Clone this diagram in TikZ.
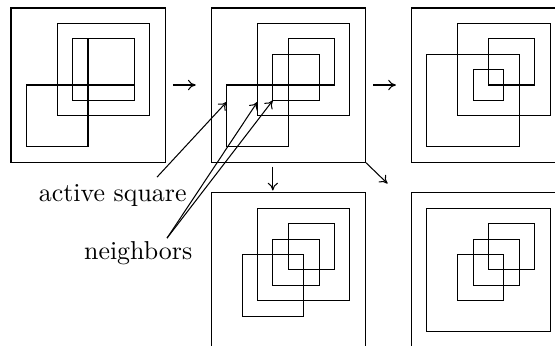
\documentclass[tikz,border=0pt]{standalone}
\usetikzlibrary{calc,arrows.meta}

\begin{document}
\begin{tikzpicture}[
  x=5.95pt, y=-5.95pt,
  panel/.style={draw, rectangle, minimum size=59.5pt, inner sep=0pt, outer sep=0pt},
  sq/.style={draw, line width=0.4pt},
  flow/.style={-{To[length=3pt,width=4pt]}, line width=0.4pt},
  tag/.style={inner sep=0pt, anchor=base east}
]
\clip (-0.714,-0.519) rectangle (35.32,21.88);

% --- panels ---
\node[panel] (p1) at (5,5) {};
\node[panel] (p2) at (18,5) {};
\node[panel] (p3) at (31,5) {};
\node[panel] (p4) at (18,17) {};
\node[panel] (p5) at (31,17) {};

% --- squares, panel 1 ---
\begin{scope}[shift={(p1.north west)}]
  \draw[sq] (3,1) rectangle (9,7);
  \draw[sq] (4,2) rectangle (8,6);
  \draw[sq] (5,2) rectangle (8,5);
  \draw[sq] (1,5) rectangle (5,9);
\end{scope}

% --- squares, panel 2 ---
\begin{scope}[shift={(p2.north west)}]
  \draw[sq] (3,1) rectangle (9,7);
  \draw[sq] (5,2) rectangle (8,5);
  \draw[sq] (4,3) rectangle (7,6);
  \draw[sq] (1,5) rectangle (5,9);
  \coordinate (asq) at (1,6.1);
  \coordinate (nb1) at (3,6.1);
  \coordinate (nb2) at (4,6);
\end{scope}

% --- squares, panel 3 ---
\begin{scope}[shift={(p3.north west)}]
  \draw[sq] (3,1) rectangle (9,7);
  \draw[sq] (5,2) rectangle (8,5);
  \draw[sq] (4,4) rectangle (6,6);
  \draw[sq] (1,3) rectangle (7,9);
\end{scope}

% --- squares, panel 4 ---
\begin{scope}[shift={(p4.north west)}]
  \draw[sq] (3,1) rectangle (9,7);
  \draw[sq] (5,2) rectangle (8,5);
  \draw[sq] (4,3) rectangle (7,6);
  \draw[sq] (2,4) rectangle (6,8);
\end{scope}

% --- squares, panel 5 ---
\begin{scope}[shift={(p5.north west)}]
  \draw[sq] (1,1) rectangle (9,9);
  \draw[sq] (5,2) rectangle (8,5);
  \draw[sq] (4,3) rectangle (7,6);
  \draw[sq] (3,4) rectangle (6,7);
\end{scope}

% --- steps between panels ---
\draw[flow, shorten <=3pt, shorten >=6pt] (p1) -- (p2);
\draw[flow, shorten <=3pt, shorten >=6pt] (p2) -- (p3);
\draw[flow] ($(p2.south)+(-1,0.3)$) -- ($(p4.north)+(-1,-0.15)$);
\draw[flow] (p2.south east) -- ++(1.45,1.4);

% --- labels ---
\node[tag] (active) at (11.43,12.58) {active square};
\node[tag] (nbrs) at (11.8,16.36) {neighbors};
\draw[flow] ($(active.base east)+(-1.95,-1.6)$) -- (asq);
\draw[flow] ($(nbrs.base east)+(-1.67,-1.42)$) -- (nb1);
\draw[flow] ($(nbrs.base east)+(-1.67,-1.42)$) -- (nb2);

\end{tikzpicture}
\end{document}
